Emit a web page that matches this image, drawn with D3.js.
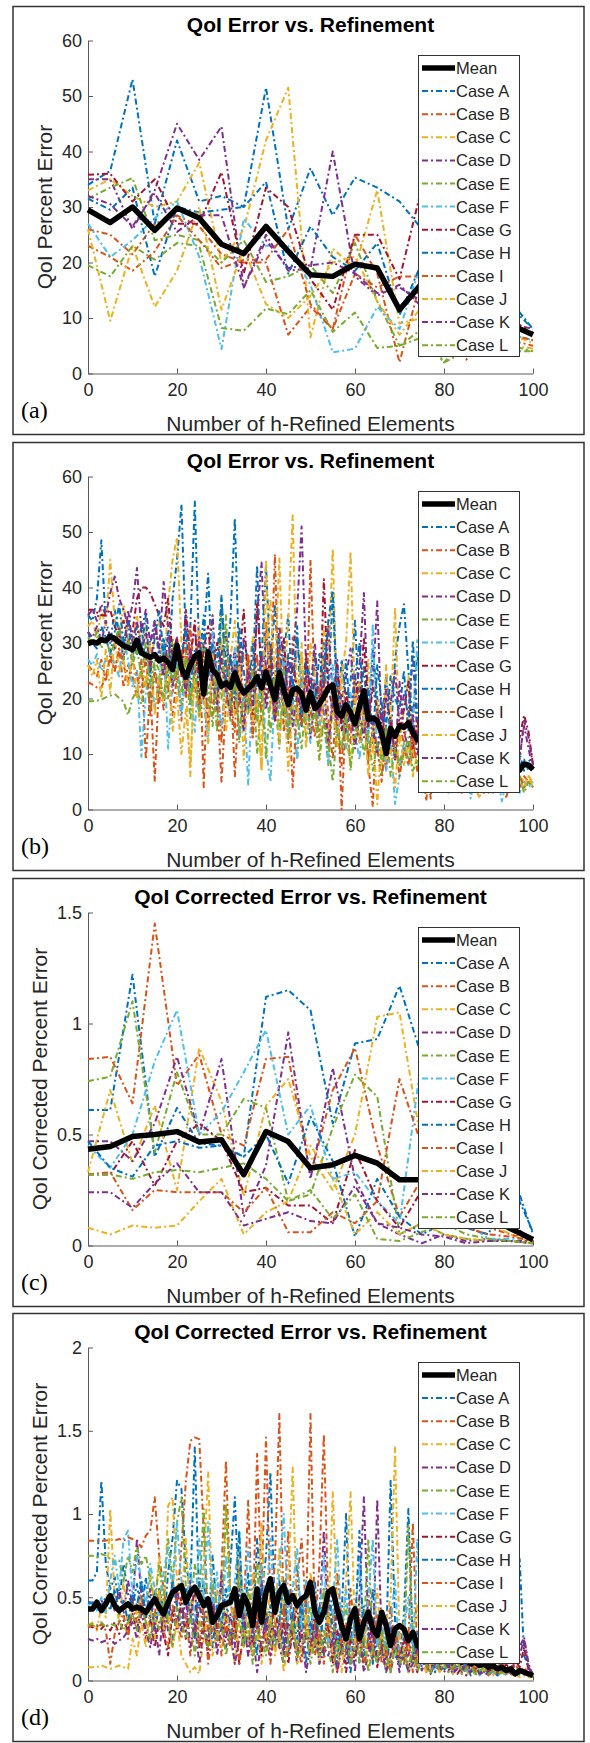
<!DOCTYPE html>
<html>
<head>
<meta charset="utf-8">
<script src="https://cdn.jsdelivr.net/npm/d3@7"></script>
<style>
  body { margin: 0; background: #fff; }
  svg { display: block; }
  text { font-family: "Liberation Sans", Arial, Helvetica, sans-serif; }
</style>
</head>
<body>
<svg id="chart" width="590" height="1743"></svg>
<script>
// ====== DADOS ======
const caseNames = ['Case A', 'Case B', 'Case C', 'Case D', 'Case E', 'Case F',
                   'Case G', 'Case H', 'Case I', 'Case J', 'Case K', 'Case L'];
const caseColors = ['#0072BD', '#D95319', '#EDB120', '#7E2F8E', '#77AC30', '#4DBEEE',
                    '#A2142F', '#0072BD', '#D95319', '#EDB120', '#7E2F8E', '#77AC30'];

// x for (a) and (c): every 5 elements; x for (b) and (d): every element
const xCoarse = [0, 5, 10, 15, 20, 25, 30, 35, 40, 45, 50, 55, 60, 65, 70, 75, 80, 85, 90, 95, 100];
const xFine = d3.range(0, 101);

const ticksErr = [0, 10, 20, 30, 40, 50, 60];
const ticksCorrC = [0, 0.5, 1, 1.5];
const ticksCorrD = [0, 0.5, 1, 1.5, 2];
const ticksX = [0, 20, 40, 60, 80, 100];

// (a) QoI error, coarse steps
const meanA = [29.5, 27.2, 30, 25.8, 29.8, 28, 23.3, 21.6, 26.5, 22, 17.8, 17.5, 19.7, 19, 11.5, 16.2, 14.5, 12.5, 10.5, 8.8, 7];
const casesA = [
  [34, 36.5, 53, 27, 42, 31, 32, 30, 51.5, 26, 37, 28.5, 35.3, 33.5, 31, 26, 22, 18, 15, 13, 8],
  [26, 25, 21.5, 27, 28.5, 26.5, 21.5, 20, 20, 7, 12, 8, 25, 18, 2, 17.5, 10, 2.5, 7, 6, 5],
  [33, 35, 32, 30, 31, 38, 20, 26, 42, 51.5, 6.5, 22.5, 19, 33, 9, 10, 12, 8, 9, 7, 5.5],
  [35, 35, 26, 33, 45, 38.5, 44.5, 15.5, 25, 18.5, 19, 40, 17.5, 14, 16, 12, 14, 10, 11, 9, 8],
  [31.5, 33.5, 35.2, 24, 25, 24, 20, 24, 16.5, 17.5, 19.5, 14.5, 23.5, 13, 5, 8, 2, 6, 5, 5, 4],
  [27, 21, 24, 28, 31, 21, 4.4, 27.9, 23, 23, 16, 3.8, 4.5, 12, 8, 20, 12, 9, 8, 7, 6],
  [35.8, 36, 31, 35, 27, 27, 36.3, 18, 33.5, 30, 17, 11.5, 25, 25, 17, 33.5, 20, 15, 12, 10, 7],
  [31.5, 29.5, 33.5, 17.5, 30, 29, 29.5, 30, 34.5, 18, 26.5, 21, 18.5, 23.5, 10.5, 20, 16, 13, 14, 12, 8],
  [23, 21, 18.5, 22, 28.5, 24, 19, 20.5, 20.5, 26, 12.5, 8, 18, 15.5, 17.5, 17.5, 12, 9, 8, 7, 6],
  [26, 9.5, 23, 12, 18.5, 30, 11.5, 22.5, 12.5, 10, 14, 20, 21, 13, 7, 12, 9, 7, 6, 5, 4.5],
  [32, 30.5, 26.5, 32.5, 25.5, 28.5, 28.5, 15.5, 24, 19, 19.5, 20, 18, 14.5, 15.5, 13, 12, 10, 9, 8, 7.5],
  [19.5, 17.5, 23, 20.5, 23.5, 23, 8.2, 7.7, 11.7, 10.7, 15, 7.5, 11, 4.6, 5, 6.5, 2, 4, 5, 4, 4]
];

// (b) QoI error, single steps
const meanB = [
  29.9, 30.2, 30.0, 30.6, 30.4, 31.2, 30.8, 30.1, 29.5, 29.2, 28.8,
  30.5, 28.2, 27.8, 27.4, 27.9, 26.8, 27.3, 26.5, 25.2, 29.6,
  25.4, 23.8, 26.0, 27.6, 28.2, 20.8, 28.4, 25.1, 24.3, 22.2,
  22.8, 22.0, 24.6, 22.3, 21.0, 21.8, 22.6, 23.9, 21.9, 24.8,
  22.4, 19.8, 24.7, 21.5, 18.9, 21.6, 21.8, 20.9, 17.9, 21.1,
  18.2, 19.0, 20.3, 21.9, 22.4, 17.6, 16.8, 18.9, 17.5, 15.4,
  18.6, 21.4, 16.2, 16.5, 16.0, 13.8, 10.1, 14.6, 13.2, 15.1,
  14.8, 15.6, 13.9, 12.6, 13.5, 12.8, 13.9, 12.2, 11.6, 12.4,
  11.0, 11.8, 10.5, 10.9, 9.8, 10.6, 9.9, 9.2, 9.6, 8.8,
  9.1, 8.4, 8.9, 8.0, 8.5, 7.9, 7.1, 8.2, 8.0, 7.2
];
const casesB = [
  [35, 34, 38, 48.5, 33, 30, 36, 32, 29, 34, 31, 28, 33, 26, 30, 34, 27, 31, 24, 38, 45,
   55, 30, 33, 55.5, 28, 31, 42.5, 22, 27, 38, 26, 34, 52.5, 25, 30, 27, 24, 44, 20, 32,
   24, 37, 22, 28, 35, 19, 31, 23, 27, 20, 28, 18, 30, 22, 39, 17, 27, 20, 23, 34,
   18, 26, 14, 29, 20, 16, 24, 12, 27, 33, 37, 25, 16, 28, 22, 14, 25, 18, 15, 21,
   13, 19, 16, 12, 18, 10, 15, 13, 9, 14, 11, 8, 12, 9, 13, 8, 10, 7, 9, 8],
  [26, 25, 24, 27, 23, 28, 25, 29, 22, 26, 24, 20, 27, 9, 22, 5, 24, 18, 28, 21, 26,
   16, 30, 19, 25, 32, 4, 28, 17, 25, 12, 27, 20, 14, 30, 19, 25, 13, 28, 16, 34,
   22, 46, 18, 26, 12, 31, 19, 24, 15, 45, 20, 13, 27, 17, 9, 22, 0, 18, 12, 24,
   16, 21, 8, 0.5, 19, 13, 7, 17, 10, 15, 12, 18, 9, 14, 6, 11, 2, 13, 8, 10,
   5, 12, 7, 9, 4, 10, 6, 8, 3, 7, 9, 5, 8, 2, 6, 7, 4, 6, 5, 5],
  [33, 34, 31, 36, 33, 45, 34, 30, 37, 31, 28, 35, 29, 33, 26, 31, 34, 24, 37, 45, 49,
   30, 22, 6, 27, 33, 24, 29, 35, 22, 31, 19, 27, 34, 22, 28, 25, 31, 20, 7, 30,
   38, 24, 45.5, 21, 34, 53, 20, 28, 16, 30, 24, 18, 33, 26, 47, 17, 24, 30, 46.5, 19,
   23, 14, 27, 10, 20, 8, 26, 16, 36.5, 12, 18, 24, 10, 15, 21, 8, 14, 11, 17, 9,
   13, 7, 12, 10, 6, 11, 8, 9, 5, 10, 7, 9, 6, 8, 5, 7, 6, 5, 6, 5],
  [35, 36, 34, 37, 35, 39, 42, 38, 36, 33, 37, 43.5, 32, 36, 30, 34, 29, 41, 33, 27, 31,
   25, 36, 28, 33, 24, 30, 27, 35, 21, 28, 32, 23, 29, 19, 31, 26, 22, 35, 44.5, 24,
   30, 21, 33, 27, 19, 28, 36, 51, 26, 22, 30, 18, 25, 33, 20, 27, 16, 24, 29, 19,
   26, 39, 17, 23, 37.5, 14, 22, 19, 25, 15, 21, 17, 28, 13, 19, 24, 12, 18, 15, 20,
   14, 17, 11, 15, 13, 9, 14, 12, 10, 13, 11, 9, 12, 10, 8, 13, 10, 15, 11, 7],
  [19.5, 19.5, 19.6, 19.8, 20.2, 20.5, 20.8, 20.1, 19.4, 17, 20, 21.5, 19, 24, 18, 26, 21, 29, 20, 31, 23,
   19, 27, 16, 25, 21, 30, 18, 24, 14, 37, 22, 16, 27, 12, 21, 17, 25, 10, 19, 23,
   14, 20, 11, 26, 15, 18, 9, 23, 13, 17, 21, 12, 16, 8, 19, 14, 11, 18, 7, 15,
   13, 17, 9, 14, 11, 6, 15, 10, 13, 8, 12, 9, 14, 7, 11, 10, 6, 9, 8, 5,
   9, 7, 6, 8, 5, 7, 4, 6, 5, 7, 4, 6, 5, 3, 6, 4, 5, 4, 5, 4],
  [27, 26, 28, 25, 27, 29, 26, 24, 31, 27, 22, 25, 9.5, 21, 26, 18, 24, 30, 11, 23, 27,
   17, 25, 21, 14, 28, 19, 12, 32, 20, 15, 24, 18, 29, 13, 21, 4.5, 23, 16, 27, 11,
   5, 22, 18, 30, 14, 20, 9, 25, 17, 12, 23, 15, 19, 8, 26, 13, 18, 11, 21, 14,
   9, 17, 12, 33.5, 10, 15, 7, 13, 1, 6, 12, 8, 14, 30.5, 9, 6, 11, 4, 8, 10,
   3, 7, 9, 5, 8, 2, 6, 4, 7, 5, 3, 6, 1.5, 5, 4, 6, 3, 5, 4, 5],
  [36, 36, 35.5, 35, 35, 36, 33, 31, 34, 30, 32, 38, 40, 40, 39, 37, 35, 33, 38, 28, 31,
   24, 35, 27, 34, 19, 29, 33, 24, 30, 26, 21, 28, 18, 27, 36, 22, 17, 37, 25, 20,
   28, 16, 24, 31, 19, 26, 22, 15, 28, 20, 23, 17, 41.5, 22, 18, 26, 14, 21, 17, 24,
   19, 31, 15, 22, 18, 12, 20, 16, 9, 14, 18, 23, 11, 16, 13, 6, 15, 10, 12, 8,
   11, 9, 13, 7, 10, 12, 6, 9, 8, 11, 7, 10, 8, 6, 9, 11, 13, 17, 14, 8],
  [32, 30, 29, 33, 31, 28, 32, 37, 30, 34, 27, 33, 29, 35, 24, 31, 36, 28, 32, 25, 30,
   27, 33, 22, 29, 26, 35, 24, 30, 18, 38.5, 23, 28, 20, 33, 25, 18, 30, 22, 27, 44,
   26, 20, 31, 17, 28, 22, 33, 15, 26, 24, 19, 28, 22, 34, 39.5, 21, 18, 27, 16, 24,
   30, 17, 22, 12, 26, 19, 15, 24, 20, 18, 25, 14, 30.5, 17, 13, 22, 16, 11, 19, 14,
   17, 12, 15, 10, 14, 11, 16, 9, 13, 10, 12, 9, 11, 8, 10, 12, 8, 9, 7, 8],
  [23, 22.5, 22, 22, 24, 27, 25, 29, 26, 23, 27, 24, 21, 28, 17, 25, 19, 27, 22, 17, 24,
   29, 20, 33, 22, 18, 27, 15, 23, 20, 5, 19, 24, 6, 21, 16, 28, 13, 20, 18, 26,
   21, 17, 29, 14, 22, 4, 19, 15, 24, 18, 13, 22, 17, 11, 20, 15, 8, 19, 14, 17,
   12, 18, 9, 15, 11, 5, 14, 10, 12, 6, 11, 8, 13, 7, 10, 1.5, 9, 6, 11, 5,
   8, 6, 9, 3, 7, 5, 8, 4, 6, 3, 7, 4, 6, 3, 5, 4, 6, 4, 5, 4],
  [26, 24, 27, 20, 29, 21, 31, 25, 27, 22, 28, 20, 26, 22, 30, 17, 24, 19, 27, 14, 21,
   10, 18, 8, 25, 16, 22, 12, 28, 19, 24, 14, 21, 17, 26, 9, 23, 16, 20, 7, 45,
   18, 24, 12, 22, 7, 19, 15, 30, 11, 21, 16, 9, 23, 14, 18, 11, 25, 13, 8, 20,
   12, 17, 6, 15, 1, 13, 9, 11, 4, 14, 8, 12, 6, 10, 14, 5, 9, 7, 11, 4,
   8, 6, 3, 9, 5, 7, 4, 2, 6, 5, 3, 6, 4, 5, 3, 7, 5, 4, 6, 4],
  [32, 31, 33, 30, 34, 31, 29, 33, 27, 36, 30, 34, 28, 32, 25, 33, 29, 24, 31, 22, 30,
   26, 21, 29, 24, 31, 20, 27, 23, 19, 28, 22, 17, 26, 21, 14, 25, 19, 23, 28, 18,
   24, 16, 22, 20, 27, 15, 21, 18, 24, 13, 20, 17, 23, 12, 19, 16, 21, 14, 18, 11,
   17, 13, 20, 15, 10, 18, 12, 16, 9, 23, 14, 11, 17, 10, 13, 15, 9, 12, 11, 8,
   12, 10, 7, 11, 9, 13, 8, 10, 12, 7, 9, 11, 8, 10, 7, 12, 9, 16, 13, 8],
  [31, 30, 32, 29, 31, 28, 30, 33, 27, 31, 26, 29, 24, 30, 22, 27, 25, 20, 28, 23, 26,
   21, 28, 19, 26, 17, 24, 22, 15, 25, 20, 35, 18, 23, 14, 21, 19, 25, 16, 22, 9,
   20, 24, 15, 19, 13, 22, 17, 11, 20, 14, 18, 9, 16, 12, 5, 15, 11, 17, 8, 13,
   16, 10, 14, 7, 12, 9, 15, 6, 11, 8, 10, 13, 7, 9, 6, 11, 8, 5, 10, 7,
   6, 9, 4, 8, 7, 5, 9, 6, 4, 7, 5, 6, 4, 7, 5, 4, 6, 3, 5, 4]
];

// (c) QoI corrected error, coarse steps
const meanC = [0.434, 0.446, 0.491, 0.50, 0.513, 0.466, 0.476, 0.319, 0.513, 0.468, 0.349, 0.364, 0.406, 0.371, 0.296, 0.296, 0.24, 0.19, 0.13, 0.075, 0.027];
const casesC = [
  [0.61, 0.61, 1.22, 0.40, 0.62, 0.46, 0.45, 0.40, 1.12, 1.15, 1.06, 0.55, 0.91, 0.93, 1.17, 0.85, 0.6, 0.45, 0.4, 0.35, 0.05],
  [0.84, 0.85, 0.64, 1.45, 0.72, 0.86, 0.50, 0.45, 0.84, 0.85, 0.32, 0.70, 0.89, 0.45, 0.13, 0.30, 0.2, 0.1, 0.08, 0.05, 0.02],
  [0.33, 0.70, 0.37, 0.63, 0.25, 0.89, 0.65, 0.22, 0.63, 0.75, 0.40, 0.25, 0.50, 1.03, 1.05, 0.45, 0.3, 0.2, 0.1, 0.05, 0.01],
  [0.47, 0.47, 0.38, 0.55, 0.85, 0.50, 0.84, 0.13, 0.36, 0.96, 0.30, 0.80, 0.30, 0.10, 0.05, 0.01, 0.05, 0.02, 0.03, 0.02, 0.02],
  [0.74, 0.76, 1.10, 0.42, 0.78, 0.50, 0.50, 0.66, 0.62, 0.20, 0.23, 0.53, 0.77, 0.67, 0.05, 0.10, 0.05, 0.03, 0.02, 0.02, 0.01],
  [0.45, 0.35, 0.50, 0.83, 1.06, 0.50, 0.60, 0.78, 0.97, 0.50, 0.63, 0.30, 0.33, 0.20, 0.10, 0.85, 0.5, 0.1, 0.03, 0.03, 0.03],
  [0.32, 0.32, 0.47, 0.27, 0.47, 0.55, 0.47, 0.24, 0.26, 0.18, 0.18, 0.10, 0.43, 0.20, 0.08, 0.25, 0.15, 0.1, 0.12, 0.1, 0.02],
  [0.47, 0.35, 0.31, 0.45, 0.47, 0.44, 0.45, 0.40, 0.50, 0.28, 0.58, 0.38, 0.04, 0.30, 0.13, 0.05, 0.1, 0.08, 0.05, 0.29, 0.06],
  [0.32, 0.33, 0.16, 0.25, 0.24, 0.24, 0.24, 0.15, 0.26, 0.06, 0.06, 0.15, 0.10, 0.20, 0.75, 0.45, 0.15, 0.08, 0.05, 0.04, 0.02],
  [0.08, 0.05, 0.09, 0.08, 0.09, 0.20, 0.30, 0.05, 0.15, 0.20, 0.45, 0.30, 0.05, 0.15, 0.05, 0.10, 0.05, 0.03, 0.02, 0.02, 0.01],
  [0.24, 0.24, 0.17, 0.28, 0.37, 0.24, 0.24, 0.09, 0.12, 0.15, 0.11, 0.10, 0.27, 0.10, 0.08, 0.05, 0.04, 0.01, 0.02, 0.02, 0.01],
  [0.32, 0.32, 0.30, 0.33, 0.34, 0.33, 0.35, 0.37, 0.30, 0.20, 0.25, 0.12, 0.23, 0.03, 0.02, 0.06, 0.1, 0.05, 0.03, 0.02, 0.01]
];

// (d) QoI corrected error, single steps
const meanD = [
  0.43, 0.43, 0.47, 0.42, 0.46, 0.51, 0.45, 0.42, 0.44, 0.46, 0.43,
  0.44, 0.43, 0.41, 0.45, 0.49, 0.44, 0.40, 0.47, 0.53, 0.55,
  0.57, 0.47, 0.53, 0.56, 0.51, 0.45, 0.49, 0.35, 0.39, 0.45,
  0.46, 0.47, 0.55, 0.39, 0.51, 0.45, 0.33, 0.55, 0.35, 0.53,
  0.61, 0.41, 0.53, 0.57, 0.47, 0.51, 0.45, 0.49, 0.51, 0.59,
  0.41, 0.35, 0.41, 0.53, 0.55, 0.43, 0.33, 0.25, 0.37, 0.43,
  0.25, 0.35, 0.41, 0.31, 0.27, 0.41, 0.33, 0.21, 0.31, 0.33,
  0.31, 0.24, 0.29, 0.21, 0.19, 0.17, 0.18, 0.15, 0.16, 0.13,
  0.14, 0.12, 0.13, 0.11, 0.12, 0.10, 0.11, 0.09, 0.10, 0.08,
  0.09, 0.07, 0.08, 0.06, 0.07, 0.04, 0.06, 0.05, 0.04, 0.03
];
const casesD = [
  [0.60, 0.60, 0.65, 1.20, 0.70, 0.55, 0.62, 0.48, 0.70, 0.52, 0.45, 0.58, 0.40, 0.62, 0.35, 0.55, 0.48, 0.30, 0.65, 0.85, 1.20,
   1.15, 0.70, 0.55, 1.40, 0.45, 0.60, 0.30, 0.75, 0.40, 0.55, 0.35, 0.70, 1.10, 0.45, 0.30, 0.65, 0.25, 0.85, 0.50, 0.75,
   1.25, 0.40, 0.60, 0.20, 0.55, 0.35, 0.70, 0.30, 0.50, 0.25, 0.60, 0.15, 0.45, 0.30, 0.55, 0.20, 0.40, 1.00, 0.25, 0.35,
   0.10, 0.45, 0.25, 0.55, 0.15, 0.30, 0.20, 1.20, 0.35, 0.15, 0.40, 1.03, 0.20, 0.30, 0.12, 0.25, 0.10, 0.30, 0.15, 0.20,
   0.08, 0.22, 0.12, 0.18, 0.06, 0.15, 0.10, 0.20, 0.05, 0.12, 0.08, 0.15, 0.05, 0.10, 0.20, 0.35, 0.73, 0.15, 0.08, 0.04],
  [0.84, 0.84, 0.84, 0.84, 0.84, 0.85, 0.84, 0.85, 0.84, 0.86, 0.85, 0.84, 0.80, 0.87, 0.90, 1.10, 0.75, 0.55, 0.35, 0.60, 0.45,
   0.80, 1.20, 1.44, 1.46, 1.45, 0.90, 0.30, 0.55, 0.20, 0.65, 1.32, 0.50, 0.25, 0.70, 0.40, 1.08, 0.30, 1.36, 0.55, 1.46,
   0.45, 0.70, 1.60, 0.35, 0.90, 0.25, 0.60, 0.85, 0.40, 1.60, 0.30, 0.70, 1.48, 0.45, 0.20, 0.65, 0.35, 0.15, 0.55, 0.25,
   0.40, 0.20, 0.55, 0.10, 0.35, 0.25, 0.15, 0.45, 0.20, 0.30, 0.12, 0.25, 0.95, 0.15, 0.30, 0.10, 0.20, 0.08, 0.15, 0.12,
   0.20, 0.06, 0.12, 0.18, 0.05, 0.10, 0.15, 0.08, 0.12, 0.05, 0.10, 0.07, 0.12, 0.05, 0.08, 0.10, 0.05, 0.07, 0.04, 0.03],
  [0.33, 0.35, 0.30, 0.45, 0.38, 1.03, 0.50, 0.35, 0.60, 0.30, 0.48, 0.40, 0.55, 0.32, 0.65, 0.45, 0.75, 0.30, 1.05, 1.10, 0.60,
   0.45, 0.85, 0.35, 0.55, 0.30, 0.70, 1.25, 0.40, 0.55, 0.35, 1.05, 0.50, 0.30, 0.80, 0.45, 0.25, 0.65, 0.40, 0.95, 0.30,
   0.55, 0.35, 0.80, 0.45, 0.60, 1.28, 0.30, 0.50, 0.25, 0.65, 0.40, 0.20, 0.55, 0.35, 1.13, 0.45, 0.25, 0.60, 1.13, 0.30,
   0.50, 0.20, 0.40, 0.25, 0.55, 0.15, 0.35, 0.50, 1.40, 0.25, 0.35, 0.15, 0.30, 0.45, 0.10, 0.25, 0.20, 0.35, 0.12, 0.20,
   0.10, 0.25, 0.15, 0.08, 0.20, 0.12, 0.05, 0.15, 0.10, 0.08, 0.12, 0.05, 0.10, 0.06, 0.09, 0.04, 0.08, 0.05, 0.03, 0.02],
  [0.47, 0.47, 0.46, 0.48, 0.45, 0.50, 0.42, 0.55, 0.40, 0.60, 0.45, 0.85, 0.50, 0.38, 0.55, 0.30, 0.45, 0.25, 0.50, 0.35, 0.55,
   0.40, 0.30, 0.60, 0.25, 0.45, 0.35, 0.20, 0.50, 0.30, 0.65, 0.25, 0.40, 0.20, 0.55, 0.35, 0.15, 0.45, 0.30, 0.60, 0.20,
   0.40, 0.25, 0.35, 0.15, 0.50, 0.30, 0.10, 0.45, 0.25, 0.35, 0.20, 0.40, 0.90, 0.30, 0.15, 0.45, 0.25, 0.10, 0.35, 0.05,
   0.50, 1.10, 0.30, 0.15, 1.09, 0.25, 0.10, 0.35, 0.20, 0.05, 0.30, 0.15, 0.25, 0.08, 0.20, 0.12, 0.05, 0.18, 0.10, 0.06,
   0.15, 0.08, 0.12, 0.05, 0.10, 0.07, 0.12, 0.04, 0.09, 0.06, 0.08, 0.05, 0.10, 0.04, 0.07, 0.15, 0.20, 0.26, 0.10, 0.03],
  [0.75, 0.75, 0.74, 0.76, 0.75, 0.73, 0.70, 0.72, 0.60, 0.75, 0.65, 0.80, 0.70, 0.75, 0.60, 0.45, 0.70, 0.50, 0.85, 0.60, 0.95,
   1.10, 0.55, 0.40, 0.70, 0.50, 1.03, 0.35, 0.60, 0.45, 0.30, 1.05, 0.50, 0.35, 0.65, 0.25, 0.55, 0.40, 0.70, 0.30, 0.45,
   0.20, 0.55, 0.35, 0.60, 0.25, 0.40, 0.15, 0.50, 0.30, 0.45, 0.20, 0.35, 0.55, 0.25, 0.40, 0.15, 0.30, 0.45, 0.20, 0.35,
   0.10, 0.30, 0.85, 0.20, 0.35, 0.15, 0.25, 0.10, 0.30, 0.20, 0.15, 0.93, 0.25, 0.10, 0.20, 0.05, 0.15, 0.10, 0.08, 0.12,
   0.05, 0.10, 0.15, 0.06, 0.12, 0.08, 0.04, 0.10, 0.07, 0.05, 0.09, 0.04, 0.07, 0.05, 0.08, 0.03, 0.06, 0.04, 0.05, 0.03],
  [0.45, 0.48, 0.42, 0.50, 0.40, 0.60, 0.75, 0.55, 0.85, 0.90, 0.50, 0.75, 0.60, 0.45, 0.70, 0.55, 0.40, 0.65, 0.80, 0.50, 0.95,
   0.60, 0.45, 0.70, 0.35, 0.85, 0.50, 0.95, 0.40, 0.65, 0.30, 0.75, 0.45, 0.60, 0.90, 0.35, 0.80, 0.50, 0.30, 0.70, 0.45,
   0.85, 0.40, 0.65, 1.00, 0.35, 0.55, 0.80, 0.30, 0.60, 0.25, 0.50, 0.35, 0.75, 0.20, 0.45, 0.85, 0.30, 0.55, 0.15, 0.40,
   0.70, 0.25, 0.50, 0.85, 0.20, 0.40, 0.15, 0.35, 0.60, 0.10, 0.30, 0.50, 0.15, 0.85, 0.25, 0.10, 0.20, 0.05, 0.15, 0.08,
   0.12, 0.05, 0.10, 0.15, 0.04, 0.08, 0.12, 0.03, 0.06, 0.10, 0.04, 0.08, 0.05, 0.03, 0.07, 0.05, 0.04, 0.06, 0.03, 0.03],
  [0.33, 0.32, 0.33, 0.31, 0.34, 0.30, 0.35, 0.28, 0.36, 0.30, 0.40, 0.30, 0.45, 0.25, 0.38, 0.20, 0.35, 0.28, 0.15, 0.42, 0.30,
   0.50, 0.25, 0.40, 0.55, 0.20, 0.35, 0.15, 0.45, 0.30, 0.25, 0.40, 0.20, 0.35, 0.10, 0.30, 0.45, 0.20, 0.35, 0.15, 0.40,
   0.25, 0.50, 0.20, 0.35, 0.10, 0.30, 0.45, 0.15, 0.30, 0.20, 0.40, 0.15, 0.25, 0.35, 0.10, 0.30, 0.20, 0.05, 0.25, 0.15,
   0.30, 0.10, 0.20, 0.35, 0.08, 0.25, 0.15, 0.05, 0.20, 0.12, 0.25, 0.08, 0.15, 0.05, 0.20, 0.10, 0.04, 0.15, 0.08, 0.12,
   0.06, 0.10, 0.04, 0.08, 0.12, 0.05, 0.09, 0.04, 0.07, 0.05, 0.08, 0.04, 0.06, 0.10, 0.05, 0.12, 0.08, 0.20, 0.06, 0.03],
  [0.47, 0.46, 0.48, 0.45, 0.50, 0.42, 0.55, 0.40, 0.48, 0.35, 0.52, 0.45, 0.60, 0.38, 0.50, 0.30, 0.55, 0.42, 0.35, 0.60, 0.45,
   0.30, 0.55, 0.40, 0.25, 0.60, 0.35, 0.50, 0.20, 0.45, 0.30, 0.55, 0.25, 0.40, 0.90, 0.20, 0.50, 0.35, 0.15, 0.55, 0.30,
   0.45, 0.20, 0.35, 0.60, 0.15, 0.40, 0.25, 0.50, 0.10, 0.35, 0.25, 0.45, 0.15, 0.55, 0.30, 0.10, 0.40, 0.20, 0.05, 0.30,
   0.90, 0.15, 0.25, 0.10, 0.35, 0.20, 0.05, 0.30, 0.15, 0.10, 0.20, 0.05, 0.15, 0.25, 0.08, 0.12, 0.18, 0.05, 0.10, 0.06,
   0.12, 0.04, 0.09, 0.06, 0.10, 0.03, 0.08, 0.05, 0.07, 0.04, 0.06, 0.03, 0.05, 0.07, 0.04, 0.06, 0.03, 0.05, 0.04, 0.02],
  [0.32, 0.33, 0.31, 0.34, 0.30, 0.10, 0.28, 0.35, 0.40, 0.25, 0.45, 0.35, 0.50, 0.30, 0.25, 0.40, 0.55, 0.30, 0.20, 0.45, 0.35,
   0.25, 0.40, 0.15, 0.35, 0.20, 0.45, 0.10, 0.30, 0.40, 0.15, 0.35, 0.20, 0.45, 0.10, 0.30, 0.25, 0.15, 0.40, 0.20, 0.30,
   0.10, 0.35, 0.25, 0.45, 0.15, 0.30, 0.20, 0.10, 0.35, 0.25, 0.15, 0.30, 0.10, 0.40, 0.20, 0.05, 0.25, 0.35, 0.10, 0.20,
   0.30, 0.08, 0.25, 0.15, 0.40, 0.10, 0.20, 0.05, 0.30, 0.15, 0.10, 0.25, 0.05, 0.15, 0.35, 0.08, 0.20, 0.12, 0.05, 0.15,
   0.10, 0.06, 0.12, 0.04, 0.08, 0.15, 0.05, 0.10, 0.06, 0.03, 0.08, 0.05, 0.10, 0.04, 0.06, 0.03, 0.05, 0.08, 0.04, 0.02],
  [0.08, 0.08, 0.08, 0.09, 0.08, 0.07, 0.08, 0.09, 0.08, 0.07, 0.25, 0.15, 0.35, 0.20, 0.45, 0.25, 0.55, 0.30, 0.40, 0.20, 0.35,
   0.15, 0.10, 0.05, 0.08, 0.04, 0.25, 0.40, 0.15, 0.30, 0.20, 0.45, 0.25, 0.10, 0.35, 0.20, 0.50, 0.15, 0.30, 0.10, 0.25,
   0.40, 0.15, 0.30, 0.05, 0.25, 0.35, 0.10, 0.20, 0.40, 0.15, 0.30, 0.10, 0.25, 0.40, 0.15, 0.20, 0.05, 0.30, 0.10, 0.25,
   0.15, 0.35, 0.08, 0.20, 0.12, 0.30, 0.05, 0.15, 0.25, 0.10, 0.20, 0.05, 0.12, 0.08, 0.18, 0.04, 0.10, 0.15, 0.05, 0.08,
   0.12, 0.04, 0.08, 0.10, 0.03, 0.06, 0.09, 0.04, 0.07, 0.05, 0.03, 0.06, 0.04, 0.05, 0.03, 0.04, 0.02, 0.03, 0.02, 0.02],
  [0.25, 0.24, 0.25, 0.23, 0.24, 0.25, 0.22, 0.24, 0.26, 0.30, 0.35, 0.25, 0.40, 0.30, 0.20, 0.35, 0.15, 0.45, 0.30, 0.25, 0.40,
   0.30, 0.50, 0.20, 0.35, 0.10, 0.30, 0.25, 0.45, 0.15, 0.35, 0.20, 0.30, 0.10, 0.25, 0.40, 0.15, 0.30, 0.05, 0.25, 0.35,
   0.15, 0.30, 0.20, 0.10, 0.35, 0.25, 0.15, 0.30, 0.05, 0.20, 0.30, 0.10, 0.20, 0.15, 0.25, 0.05, 0.20, 0.30, 0.10, 0.15,
   0.25, 0.05, 0.15, 0.30, 0.10, 0.20, 0.05, 0.15, 0.25, 0.08, 0.15, 0.05, 0.10, 0.20, 0.06, 0.12, 0.04, 0.10, 0.08, 0.05,
   0.09, 0.04, 0.07, 0.10, 0.03, 0.06, 0.08, 0.04, 0.05, 0.03, 0.06, 0.04, 0.05, 0.08, 0.04, 0.10, 0.15, 0.25, 0.08, 0.03],
  [0.33, 0.34, 0.33, 0.35, 0.32, 0.34, 0.33, 0.36, 0.30, 0.35, 0.40, 0.30, 0.45, 0.35, 0.25, 0.40, 0.30, 0.50, 0.35, 0.20, 0.45,
   0.35, 0.25, 0.40, 0.15, 0.35, 0.30, 0.20, 0.40, 0.25, 0.35, 0.15, 0.30, 0.25, 0.40, 0.20, 0.35, 0.10, 0.30, 0.25, 0.15,
   0.35, 0.20, 0.30, 0.10, 0.25, 0.35, 0.15, 0.20, 0.30, 0.10, 0.25, 0.15, 0.30, 0.20, 0.05, 0.25, 0.15, 0.30, 0.10, 0.20,
   0.15, 0.25, 0.05, 0.20, 0.10, 0.30, 0.15, 0.05, 0.20, 0.10, 0.15, 0.08, 0.20, 0.05, 0.12, 0.10, 0.04, 0.15, 0.06, 0.10,
   0.05, 0.08, 0.12, 0.04, 0.07, 0.10, 0.03, 0.06, 0.08, 0.04, 0.06, 0.03, 0.05, 0.04, 0.06, 0.03, 0.04, 0.05, 0.03, 0.02]
];

// ====== PAINÉIS ======
const panels = [
  { top: 6,    tag: '(a)', title: 'QoI Error vs. Refinement',           yLabel: 'QoI Percent Error',           yMax: 60,  yTicks: ticksErr,   yLabelX: 44, x: xCoarse, mean: meanA, cases: casesA },
  { top: 442,  tag: '(b)', title: 'QoI Error vs. Refinement',           yLabel: 'QoI Percent Error',           yMax: 60,  yTicks: ticksErr,   yLabelX: 44, x: xFine,   mean: meanB, cases: casesB },
  { top: 878,  tag: '(c)', title: 'QoI Corrected Error vs. Refinement', yLabel: 'QoI Corrected Percent Error', yMax: 1.5, yTicks: ticksCorrC, yLabelX: 39, x: xCoarse, mean: meanC, cases: casesC },
  { top: 1313, tag: '(d)', title: 'QoI Corrected Error vs. Refinement', yLabel: 'QoI Corrected Percent Error', yMax: 2,   yTicks: ticksCorrD, yLabelX: 39, x: xFine,   mean: meanD, cases: casesD }
];

const plotLeft = 88, plotRight = 533, plotTop = 34.5, plotBottom = 367.5;
const axisColor = '#5a5a5a';
const textColor = '#262626';
const dashPattern = '6,3,2,3';

const svg = d3.select('#chart');

function drawPanel(p) {
  const g = svg.append('g').attr('transform', `translate(0,${p.top})`);

  // moldura
  g.append('rect')
    .attr('x', 13).attr('y', 0.5)
    .attr('width', 571).attr('height', 428)
    .attr('fill', 'none')
    .attr('stroke', '#333')
    .attr('stroke-width', 1.5);

  const x = d3.scaleLinear().domain([0, 100]).range([plotLeft, plotRight]);
  const y = d3.scaleLinear().domain([0, p.yMax]).range([plotBottom, plotTop]);

  // eixos
  const xAxis = d3.axisBottom(x).tickValues(ticksX).tickSizeInner(-5).tickSizeOuter(0).tickPadding(9.5);
  const yAxis = d3.axisLeft(y).tickValues(p.yTicks).tickSizeInner(-5).tickSizeOuter(0).tickPadding(6)
    .tickFormat(d => String(d));

  const gx = g.append('g').attr('transform', `translate(0,${plotBottom})`).call(xAxis);
  const gy = g.append('g').attr('transform', `translate(${plotLeft},0)`).call(yAxis);
  [gx, gy].forEach(a => {
    a.select('.domain').attr('stroke', axisColor);
    a.selectAll('.tick line').attr('stroke', axisColor);
    a.selectAll('.tick text')
      .attr('fill', textColor)
      .style('font-size', '18px')
      .style('font-family', '"Liberation Sans", Arial, sans-serif');
  });

  // séries
  const line = d3.line()
    .x((d, i) => x(p.x[i]))
    .y(d => y(d));

  p.cases.forEach((vals, k) => {
    g.append('path')
      .datum(vals)
      .attr('d', line)
      .attr('fill', 'none')
      .attr('stroke', caseColors[k])
      .attr('stroke-width', 2)
      .attr('stroke-dasharray', dashPattern)
      .attr('stroke-linejoin', 'round');
  });

  g.append('path')
    .datum(p.mean)
    .attr('d', line)
    .attr('fill', 'none')
    .attr('stroke', '#000')
    .attr('stroke-width', 5.5)
    .attr('stroke-linejoin', 'round');

  // textos
  g.append('text')
    .attr('x', (plotLeft + plotRight) / 2)
    .attr('y', 18)
    .attr('text-anchor', 'middle')
    .attr('dominant-baseline', 'central')
    .attr('fill', '#000')
    .style('font-size', '21px')
    .style('font-weight', 'bold')
    .text(p.title);

  g.append('text')
    .attr('transform', `translate(${p.yLabelX},${(plotTop + plotBottom) / 2}) rotate(-90)`)
    .attr('text-anchor', 'middle')
    .attr('dominant-baseline', 'central')
    .attr('fill', textColor)
    .style('font-size', '21px')
    .text(p.yLabel);

  g.append('text')
    .attr('x', (plotLeft + plotRight) / 2)
    .attr('y', 417)
    .attr('text-anchor', 'middle')
    .attr('dominant-baseline', 'central')
    .attr('fill', textColor)
    .style('font-size', '21px')
    .text('Number of h-Refined Elements');

  g.append('text')
    .attr('x', 21)
    .attr('y', 404)
    .attr('dominant-baseline', 'central')
    .attr('fill', '#000')
    .style('font-size', '24px')
    .style('font-family', '"Liberation Serif", "Times New Roman", serif')
    .text(p.tag);

  // legenda
  const lg = g.append('g');
  lg.append('rect')
    .attr('x', 418.5).attr('y', 49.5)
    .attr('width', 101).attr('height', 301)
    .attr('fill', '#fff')
    .attr('stroke', '#333')
    .attr('stroke-width', 1);

  const entries = [{ name: 'Mean', color: '#000', mean: true }]
    .concat(caseNames.map((n, k) => ({ name: n, color: caseColors[k], mean: false })));

  entries.forEach((e, i) => {
    const ly = 62 + i * 23.1;
    lg.append('line')
      .attr('x1', 422).attr('x2', 455)
      .attr('y1', ly).attr('y2', ly)
      .attr('stroke', e.color)
      .attr('stroke-width', e.mean ? 5.5 : 2)
      .attr('stroke-dasharray', e.mean ? null : dashPattern);
    lg.append('text')
      .attr('x', 456)
      .attr('y', ly)
      .attr('dominant-baseline', 'central')
      .attr('fill', textColor)
      .style('font-size', '16.5px')
      .text(e.name);
  });
}

panels.forEach(drawPanel);
</script>
</body>
</html>
